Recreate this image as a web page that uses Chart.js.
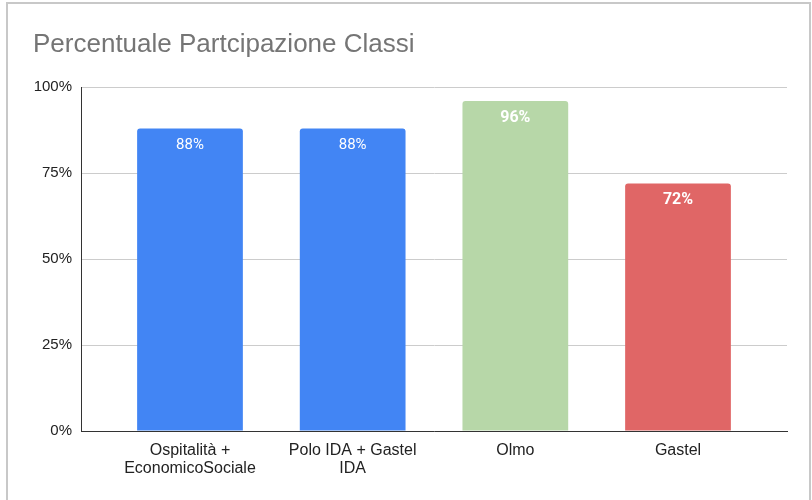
<!DOCTYPE html>
<html>
<head>
<meta charset="utf-8">
<script src="https://cdn.jsdelivr.net/npm/chart.js@4"></script>
<style>
html, body { margin: 0; padding: 0; background: #fff; }
#wrap { position: relative; width: 812px; height: 500px; overflow: hidden; }
#frame { position: absolute; left: 6px; top: 2px; right: 1px; height: 600px; border: 2px solid #c8c8c8; box-sizing: border-box; pointer-events: none; }
</style>
</head>
<body>
<div id="wrap">
  <canvas id="chart" width="812" height="500"></canvas>
  <div id="frame"></div>
</div>
<script>
// dati
var categories = [
    ['Ospitalità +', 'EconomicoSociale'],
    ['Polo IDA + Gastel', 'IDA'],
    'Olmo',
    'Gastel'
];
var values = [88, 88, 96, 72];
var yTicks = [0, 25, 50, 75, 100];

// stile
var barColors = ['#4285F4', '#4285F4', '#B7D7A8', '#E06666'];
var labelBold = [false, false, true, true];

var valueLabels = {
    id: 'valueLabels',
    afterDatasetsDraw: function(chart){
        var ctx = chart.ctx;
        var meta = chart.getDatasetMeta(0);
        ctx.save();
        ctx.textAlign = 'center';
        ctx.textBaseline = 'middle';
        meta.data.forEach(function(bar, i){
            ctx.font = labelBold[i] ? 'bold 16px Roboto' : '15px Roboto';
            ctx.fillStyle = '#ffffff';
            ctx.fillText(values[i] + '%', bar.x, bar.y + 17);
        });
        ctx.restore();
    }
};

window.onload = function(){
    var canvas = document.getElementById('chart');
    window.chartInstance = new Chart(canvas.getContext('2d'), {
        type: 'bar',
        data: {
            datasets: [{
                data: values.map(function(v, i){ return {x: i, y: v}; }),
                backgroundColor: barColors,
                borderRadius: {topLeft: 3, topRight: 3, bottomLeft: 0, bottomRight: 0},
                borderSkipped: 'bottom',
                categoryPercentage: 0.65,
                barPercentage: 1
            }]
        },
        options: {
            responsive: false,
            animation: false,
            layout: { padding: { left: 33, right: 25, top: 0, bottom: 0 } },
            plugins: {
                legend: { display: false },
                tooltip: { enabled: false },
                title: {
                    display: true,
                    text: 'Percentuale Partcipazione Classi',
                    align: 'start',
                    color: '#757575',
                    font: { family: 'Liberation Sans', size: 26, weight: 'normal' },
                    padding: { top: 29, bottom: 27 }
                }
            },
            scales: {
                x: {
                    type: 'linear',
                    min: -0.67,
                    max: 3.67,
                    offset: false,
                    grid: { display: false },
                    border: { display: true, color: '#333333', width: 1 },
                    afterBuildTicks: function(scale){
                        scale.ticks = categories.map(function(c, i){ return {value: i}; });
                    },
                    afterFit: function(scale){ scale.height = 69; },
                    ticks: {
                        autoSkip: false,
                        maxRotation: 0,
                        padding: 2,
                        color: '#222222',
                        font: { family: 'Liberation Sans', size: 16, lineHeight: 1.15 },
                        callback: function(v){ return categories[v]; }
                    }
                },
                y: {
                    min: 0,
                    max: 100,
                    grid: { color: '#cccccc', drawTicks: false },
                    border: { display: true, color: '#333333', width: 1 },
                    afterBuildTicks: function(scale){
                        scale.ticks = yTicks.map(function(v){ return {value: v}; });
                    },
                    afterFit: function(scale){ scale.width = 48; },
                    ticks: {
                        padding: 9,
                        color: '#222222',
                        font: { family: 'Liberation Sans', size: 15 },
                        callback: function(v){ return v + '%'; }
                    }
                }
            }
        },
        plugins: [valueLabels]
    });
};
</script>
</body>
</html>
